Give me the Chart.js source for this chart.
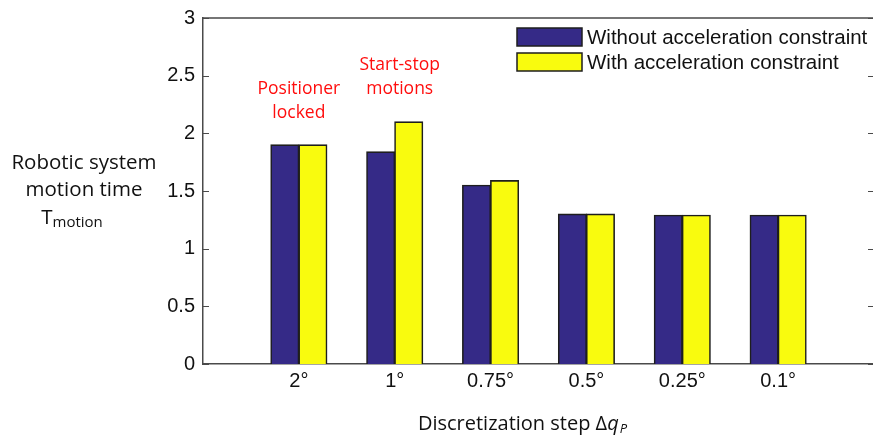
<!DOCTYPE html>
<html>
<head>
<meta charset="utf-8">
<script src="https://cdn.jsdelivr.net/npm/chart.js@4/dist/chart.umd.min.js"></script>
<style>
html,body{margin:0;padding:0;background:#fff;overflow:hidden;width:873px;height:436px;}
#wrap{position:absolute;left:0;top:0;width:880px;height:436px;}
</style>
</head>
<body>
<div id="wrap"><canvas id="c" width="880" height="436"></canvas></div>
<script>
const categories = ['2°', '1°', '0.75°', '0.5°', '0.25°', '0.1°'];
const withoutAccel = [1.90, 1.84, 1.55, 1.30, 1.29, 1.29];
const withAccel = [1.90, 2.10, 1.59, 1.30, 1.29, 1.29];
const seriesNames = ['Without acceleration constraint', 'With acceleration constraint'];
const yTicks = [0, 0.5, 1, 1.5, 2, 2.5, 3];
const yTickLabels = ['0', '0.5', '1', '1.5', '2', '2.5', '3'];
const annotations = [
  {cat: 0, lines: ['Positioner', 'locked'], dx: 0, y: [89, 113]},
  {cat: 1, lines: ['Start-stop', 'motions'], dx: 5, y: [65, 89]}
];

const BLUE = '#352a87';
const YELLOW = '#f9fb0e';
const EDGE = '#1e1e1e';
const AXIS = '#4a4a4a';
const TICKFONT = '"Liberation Sans", Arial, sans-serif';

// padded categories: empty slot on each side (axis range 0..7)
const labels = [''].concat(categories, ['']);
const pad = arr => [null].concat(arr, [null]);

const overlay = {
  id: 'overlay',
  afterDraw(chart) {
    const ctx = chart.ctx;
    const a = chart.chartArea;
    const y = chart.scales.y, x = chart.scales.x;
    ctx.save();
    // box top & right
    ctx.strokeStyle = AXIS; ctx.lineWidth = 1.5;
    ctx.beginPath();
    ctx.moveTo(a.left, a.top); ctx.lineTo(a.right, a.top); ctx.lineTo(a.right, a.bottom);
    ctx.stroke();
    // inward ticks
    ctx.lineWidth = 1.2;
    yTicks.forEach(v => {
      const py = Math.round(y.getPixelForValue(v)) + 0.5;
      ctx.beginPath();
      ctx.moveTo(a.left, py); ctx.lineTo(a.left + 6, py);
      ctx.moveTo(a.right, py); ctx.lineTo(a.right - 6, py);
      ctx.stroke();
    });
    // legend
    const ds = chart.data.datasets;
    ctx.font = '20.5px ' + TICKFONT;
    ctx.textBaseline = 'middle'; ctx.textAlign = 'left';
    ds.forEach((d, i) => {
      const ty = 37 + i * 25;
      ctx.fillStyle = d.backgroundColor;
      ctx.fillRect(517, ty - 9, 65, 18);
      ctx.strokeStyle = EDGE; ctx.lineWidth = 1.5;
      ctx.strokeRect(517, ty - 9, 65, 18);
      ctx.fillStyle = '#111';
      ctx.fillText(d.label, 587, ty + 1);
    });
    // annotations
    ctx.fillStyle = '#ff0d0d';
    ctx.font = '17.5px "Open Sans", sans-serif';
    ctx.textAlign = 'center';
    annotations.forEach(an => {
      const px = x.getPixelForValue(an.cat + 1) + an.dx;
      an.lines.forEach((t, k) => ctx.fillText(t, px, an.y[k]));
    });
    // y title
    ctx.fillStyle = '#111';
    ctx.font = '20.5px "Open Sans", sans-serif';
    ctx.fillText('Robotic system', 84, 163);
    ctx.fillText('motion time', 84, 190);
    ctx.textAlign = 'left';
    const tW = ctx.measureText('T').width;
    ctx.font = '15px "Open Sans", sans-serif';
    const sW = ctx.measureText('motion').width;
    const tx = 72 - (tW + sW) / 2;
    ctx.font = '20.5px "Open Sans", sans-serif';
    ctx.fillText('T', tx, 218);
    ctx.font = '15px "Open Sans", sans-serif';
    ctx.fillText('motion', tx + tW, 223);
    // x title
    ctx.font = '20px "Open Sans", sans-serif';
    const s1 = 'Discretization step \u0394';
    const w1 = ctx.measureText(s1).width;
    ctx.font = 'italic 20px "Open Sans", sans-serif';
    const wq = ctx.measureText('q').width;
    ctx.font = 'italic 13px "Open Sans", sans-serif';
    const wp = ctx.measureText('P').width;
    const x0 = 522 - (w1 + wq + wp) / 2;
    ctx.font = '20px "Open Sans", sans-serif';
    ctx.fillText(s1, x0, 424);
    ctx.font = 'italic 20px "Open Sans", sans-serif';
    ctx.fillText('q', x0 + w1, 424);
    ctx.font = 'italic 13px "Open Sans", sans-serif';
    ctx.fillText('P', x0 + w1 + wq + 1, 429);
    ctx.restore();
  }
};

new Chart(document.getElementById('c'), {
  type: 'bar',
  data: {
    labels: labels,
    datasets: [
      {label: seriesNames[0], data: pad(withoutAccel), backgroundColor: BLUE, borderColor: EDGE, borderWidth: 1.6, inflateAmount: 0.5},
      {label: seriesNames[1], data: pad(withAccel), backgroundColor: YELLOW, borderColor: EDGE, borderWidth: 1.6, inflateAmount: 0.5}
    ]
  },
  options: {
    responsive: false,
    animation: false,
    devicePixelRatio: 1,
    categoryPercentage: 0.585,
    barPercentage: 1.0,
    layout: {padding: {left: 0, right: 6, top: 13, bottom: 0}},
    plugins: {legend: {display: false}, tooltip: {enabled: false}},
    scales: {
      x: {
        type: 'category',
        offset: false,
        grid: {display: false, drawTicks: false},
        border: {display: true, color: AXIS, width: 1.5},
        ticks: {color: '#111', font: {family: TICKFONT, size: 20}, padding: 5, maxRotation: 0, autoSkip: false},
        afterFit(s) { s.height = 72; }
      },
      y: {
        min: 0, max: 3,
        afterBuildTicks(s) { s.ticks = yTicks.map(v => ({value: v})); },
        grid: {display: false, drawTicks: false},
        border: {display: true, color: AXIS, width: 1.5},
        ticks: {color: '#111', font: {family: TICKFONT, size: 20, lineHeight: 1}, padding: 8,
          callback: (v, i) => yTickLabels[i]},
        afterFit(s) { s.width = 203; }
      }
    }
  },
  plugins: [overlay]
});
</script>
</body>
</html>
